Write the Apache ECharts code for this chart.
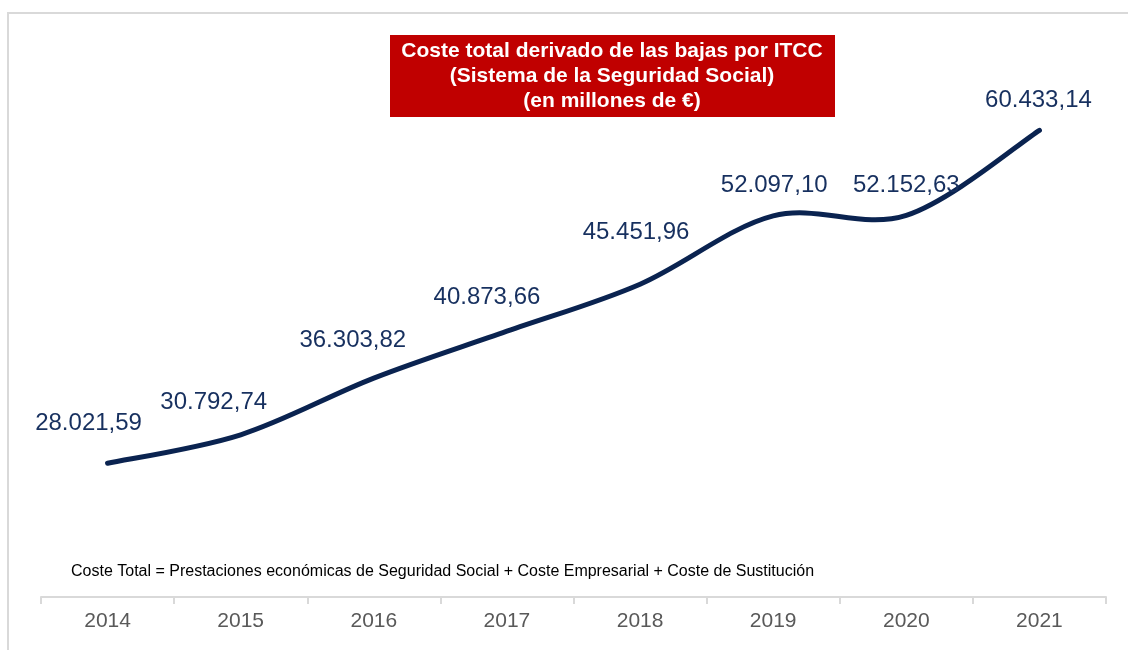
<!DOCTYPE html>
<html>
<head>
<meta charset="utf-8">
<script src="https://cdn.jsdelivr.net/npm/echarts@6/dist/echarts.min.js"></script>
<style>
  html, body { margin: 0; padding: 0; background: #fff; }
  #chart { width: 1128px; height: 650px; }
</style>
</head>
<body>
<div id="chart"></div>
<script>
const years = ["2014", "2015", "2016", "2017", "2018", "2019", "2020", "2021"];
const coste = [28021.59, 30792.74, 36303.82, 40873.66, 45451.96, 52097.10, 52152.63, 60433.14];
// label nudges (px) relative to each point
const labelShift = [[-19, -40], [-27, -32], [-21, -38], [-20, -34], [-4, -52], [1, -31], [0, -30], [-1, -30]];

const titleLines = [
  "Coste total derivado de las bajas por ITCC",
  "(Sistema de la Seguridad Social)",
  "(en millones de €)"
];
const footnote = "Coste Total = Prestaciones económicas de Seguridad Social + Coste Empresarial + Coste de Sustitución";

const fmt = v => {
  const [i, d] = v.toFixed(2).split(".");
  return i.replace(/\B(?=(\d{3})+(?!\d))/g, ".") + "," + d;
};

const chart = echarts.init(document.getElementById("chart"));

// excel-like smoothed path through all points (catmull-rom, 1/6 tangents)
function smoothPath(pts) {
  let d = "M" + pts[0][0] + " " + pts[0][1];
  for (let i = 0; i < pts.length - 1; i++) {
    const p0 = pts[Math.max(i - 1, 0)], p1 = pts[i], p2 = pts[i + 1], p3 = pts[Math.min(i + 2, pts.length - 1)];
    const c1 = [p1[0] + (p2[0] - p0[0]) / 6, p1[1] + (p2[1] - p0[1]) / 6];
    const c2 = [p2[0] - (p3[0] - p1[0]) / 6, p2[1] - (p3[1] - p1[1]) / 6];
    d += " C" + c1[0] + " " + c1[1] + " " + c2[0] + " " + c2[1] + " " + p2[0] + " " + p2[1];
  }
  return d;
}

function renderItem(params, api) {
  const idx = params.dataIndex;
  const pt = api.coord([api.value(0), api.value(1)]);
  const children = [{
    type: "text",
    x: pt[0] + labelShift[idx][0],
    y: pt[1] + labelShift[idx][1],
    z2: 5,
    style: {
      text: fmt(api.value(1)),
      fill: "#17305f",
      font: "24px 'Liberation Sans', Arial, sans-serif",
      align: "center",
      verticalAlign: "middle"
    }
  }];
  if (idx === 0) {
    const pts = coste.map((v, i) => api.coord([i, v]));
    children.push({
      type: "path",
      shape: { pathData: smoothPath(pts) },
      style: { fill: "none", stroke: "#0a2350", lineWidth: 5, lineCap: "round", lineJoin: "round" }
    });
  }
  return { type: "group", children };
}

const option = {
  backgroundColor: "#fff",
  animation: false,
  textStyle: { fontFamily: "Liberation Sans, Arial, sans-serif" },
  grid: { left: 41, right: 22, top: 32, bottom: 53 },
  xAxis: {
    type: "category",
    data: years,
    boundaryGap: true,
    axisLine: { lineStyle: { color: "#d9d9d9", width: 2 } },
    axisTick: { show: true, length: 7, lineStyle: { color: "#d9d9d9", width: 2 } },
    axisLabel: { color: "#595959", fontSize: 21, margin: 14 }
  },
  yAxis: {
    type: "value",
    min: 15000,
    max: 70000,
    show: false
  },
  graphic: [
    {
      type: "rect",
      shape: { x: 8, y: 13, width: 1200, height: 700 },
      style: { fill: "none", stroke: "#d9d9d9", lineWidth: 2 },
      silent: true
    },
    {
      type: "rect",
      shape: { x: 390, y: 35, width: 445, height: 82 },
      style: { fill: "#c00000" },
      z: 10
    },
    {
      type: "text",
      x: 612, y: 39,
      z: 11,
      style: {
        text: titleLines.join("\n"),
        fill: "#fff",
        font: "bold 21px 'Liberation Sans', Arial, sans-serif",
        align: "center",
        verticalAlign: "top",
        lineHeight: 25
      }
    },
    {
      type: "text",
      x: 71, y: 564,
      style: {
        text: footnote,
        fill: "#000",
        font: "16px 'Liberation Sans', Arial, sans-serif"
      }
    }
  ],
  series: [{
    type: "custom",
    renderItem,
    data: coste.map((v, i) => [i, v])
  }]
};

chart.setOption(option);
</script>
</body>
</html>
